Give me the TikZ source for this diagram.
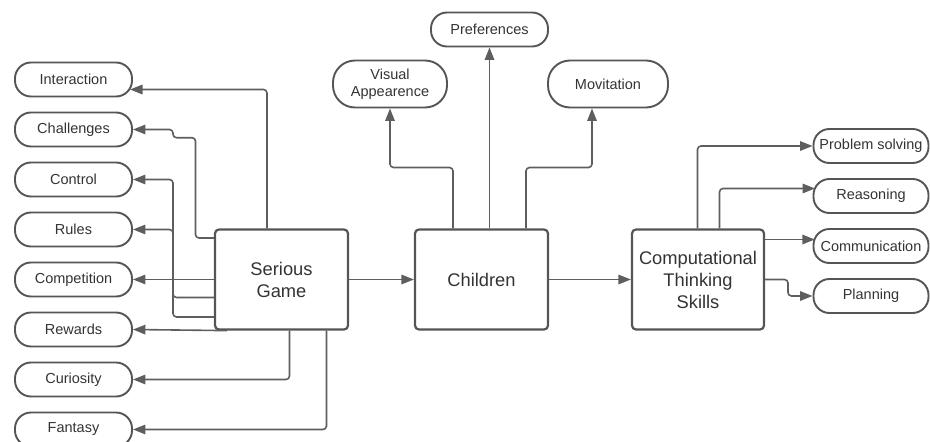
\documentclass[tikz,border=0pt]{standalone}
\usepackage{fontspec}
\setmainfont{Liberation Sans}
\usetikzlibrary{arrows.meta}
\definecolor{linec}{HTML}{5E5E5E}
\definecolor{borderc}{HTML}{555555}
\definecolor{textc}{HTML}{333333}
\tikzset{
  pill/.style={draw=borderc, line width=1.9pt, rounded corners=16pt, minimum width=117pt, minimum height=34pt, inner sep=0pt, text=textc, font=\fontsize{14.5}{17.5}\selectfont, align=center},
  bigpill/.style={pill, rounded corners=22pt, minimum height=47pt},
  mainbox/.style={draw=borderc, line width=2.2pt, rounded corners=4pt, minimum width=133pt, minimum height=100pt, inner sep=0pt, text=textc, font=\fontsize{18.3}{22}\selectfont, align=center},
  conn/.style={draw=linec, line width=1.6pt, rounded corners=3.5pt, -{Triangle[length=12.5pt,width=9.5pt]}},
}
\begin{document}
\begin{tikzpicture}[x=1pt,y=-1pt]
\useasboundingbox (0,0) rectangle (930,442);
% left nodes
\node[pill] (int)  at (73.5,79.5)  {Interaction};
\node[pill] (chal) at (73.5,129.5) {Challenges};
\node[pill] (ctrl) at (73.5,179.5) {Control};
\node[pill] (rules) at (73.5,229.5) {Rules};
\node[pill] (comp) at (73.5,279.5) {Competition};
\node[pill] (rew)  at (73.5,329.5) {Rewards};
\node[pill] (cur)  at (73.5,379.5) {Curiosity};
\node[pill] (fan)  at (73.5,429.5) {Fantasy};
% main boxes
\node[mainbox] (sg)  at (281.5,279.5) {Serious\\Game};
\node[mainbox] (ch)  at (481.5,279.5) {Children};
\node[mainbox, minimum width=132pt] (cts) at (698,279.5) {Computational\\Thinking\\Skills};
% top nodes
\node[pill] (pref) at (489.5,29.5) {Preferences};
\node[bigpill, minimum width=114pt] (vis) at (390,84) {Visual\\Appearence};
\node[bigpill, minimum width=120pt] (mov) at (608,84) {Movitation};
% right nodes
\node[pill, minimum width=115pt] (ps)   at (871,146) {Problem solving};
\node[pill, minimum width=115pt] (reas) at (871,196) {Reasoning};
\node[pill, minimum width=115pt] (comm) at (871,246) {Communication};
\node[pill, minimum width=115pt] (plan) at (871,296) {Planning};
% serious game connectors
\draw[conn] (sg.north -| 267,0) |- (130,89.5);
\draw[conn] (sg.west |- 0,238) -| (195.5,137.7) -| (173,129.5) -- (chal.east);
\draw[conn] (sg.west |- 0,317) -| (173,179.5) -- (ctrl.east);
\draw[conn] (sg.west |- 0,297.5) -| (173,229.5) -- (rules.east);
\draw[conn] (sg.west) -- (comp.east);
\draw[conn] (sg.south -| 227,0) -- (rew.east);
\draw[conn] (sg.south -| 289.5,0) |- (cur.east);
\draw[conn] (sg.south -| 326.5,0) |- (fan.east);
% main flow
\draw[conn] (sg.east) -- (ch.west);
\draw[conn] (ch.east) -- (cts.west);
% children connectors
\draw[conn] (ch.north -| 453,0) |- (vis.south |- 0,167.5) -- (vis.south);
\draw[conn] (ch.north -| pref.south) -- (pref.south);
\draw[conn] (ch.north -| 526,0) |- (592,167.5) -- (mov.south -| 592,0);
% CTS connectors
\draw[conn] (cts.north -| 697.5,0) |- (ps.west);
\draw[conn] (cts.north -| 719.5,0) |- (815,188.5);
\draw[conn] (cts.east |- 0,239.5) -- (814.8,239.5);
\draw[conn] (cts.east) -| (788,296) -- (plan.west);
\end{tikzpicture}
\end{document}
